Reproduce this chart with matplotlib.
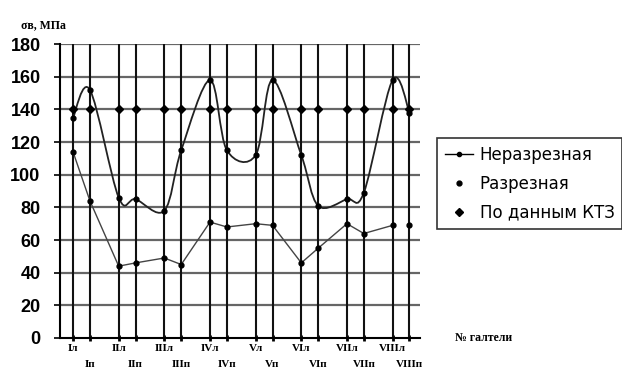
import matplotlib

matplotlib.use("Agg")
import matplotlib.pyplot as plt
from matplotlib.path import Path
from matplotlib.patches import PathPatch

# номера галтелей (л - левая, п - правая)
galteli_l = ["Iл", "IIл", "IIIл", "IVл", "Vл", "VIл", "VIIл", "VIIIл"]
galteli_p = ["Iп", "IIп", "IIIп", "IVп", "Vп", "VIп", "VIIп", "VIIIп"]

# sigma_v, МПа по галтелям в порядке Iл, Iп, IIл, IIп, ...
nerazreznaya = [135, 152, 86, 85, 78, 115, 158, 115, 112, 158, 112, 81, 85, 89, 158, 138]
razreznaya = [114, 84, 44, 46, 49, 45, 71, 68, 70, 69, 46, 55, 70, 64, 69, 69]
ktz = [140, 140, 140, 140, 140, 140, 140, 140, 140, 140, 140, 140, 140, 140, 140, 140]

sdvig = 0.37  # правая галтель чуть правее левой
x_l = list(range(len(galteli_l)))
x_p = [x + sdvig for x in x_l]
x_all = []
for a, b in zip(x_l, x_p):
    x_all += [a, b]


def gladkaya(ax, xs, ys, **kw):
    # сглаженная линия как в Excel (Catmull-Rom -> Bezier)
    pts = list(zip(xs, ys))
    n = len(pts)
    verts = [pts[0]]
    codes = [Path.MOVETO]
    for i in range(n - 1):
        p0 = pts[i - 1] if i > 0 else pts[i]
        p1 = pts[i]
        p2 = pts[i + 1]
        p3 = pts[i + 2] if i + 2 < n else pts[i + 1]
        c1 = (p1[0] + (p2[0] - p0[0]) / 6, p1[1] + (p2[1] - p0[1]) / 6)
        c2 = (p2[0] - (p3[0] - p1[0]) / 6, p2[1] - (p3[1] - p1[1]) / 6)
        verts += [c1, c2, p2]
        codes += [Path.CURVE4] * 3
    ax.add_patch(PathPatch(Path(verts, codes), fill=False, **kw))


fig = plt.figure(figsize=(6.22, 3.71), dpi=100)
ax = fig.add_axes([0.0965, 0.089, 0.578, 0.792])

ax.set_xlim(-0.285, 7.59)
ax.set_ylim(0, 180)

for y in range(20, 181, 20):
    ax.axhline(y, color="#666666", lw=1.6, zorder=1)
for x in x_all:
    ax.axvline(x, color="#111111", lw=1.5, zorder=2)

gladkaya(ax, x_all, nerazreznaya, color="#222222", lw=1.3, zorder=3)
ax.plot(x_all, nerazreznaya, "o", color="black", ms=3.5, zorder=4)
ax.plot(x_all[:-1], razreznaya[:-1], "-", color="#444444", lw=1.0, zorder=3)
ax.plot(x_all, razreznaya, "o", color="black", ms=3.5, zorder=4)
ax.plot(x_all, ktz, "D", color="black", ms=4, zorder=4)

# легенда
h1, = ax.plot([], [], "-o", color="black", ms=3, lw=1)
h2, = ax.plot([], [], "o", color="black", ms=3.5)
h3, = ax.plot([], [], "D", color="black", ms=4)
leg = fig.legend([h1, h2, h3], ["Неразрезная", "Разрезная", "По данным КТЗ"],
                 loc="upper left", bbox_to_anchor=(0.703, 0.627),
                 frameon=True, fancybox=False, fontsize=12, handlelength=1.7,
                 labelspacing=0.65, borderpad=0.45, handletextpad=0.4,
                 borderaxespad=0)
leg.get_frame().set_edgecolor("black")
leg.get_frame().set_linewidth(1.2)

ax.set_yticks(range(0, 181, 20))
ax.tick_params(axis="y", labelsize=13, length=4, width=1.2, pad=10)
for t in ax.get_yticklabels():
    t.set_fontweight("bold")
    t.set_family("Liberation Sans")

ax.set_xticks(x_l)
ax.set_xticklabels(galteli_l, family="Liberation Serif", fontsize=8, fontweight="bold")
ax.set_xticks(x_p, minor=True)
ax.set_xticklabels(galteli_p, minor=True, family="Liberation Serif", fontsize=8,
                   fontweight="bold")
ax.tick_params(axis="x", which="major", length=5, width=2, direction="inout", pad=2)
ax.tick_params(axis="x", which="minor", length=5, width=2, direction="inout", pad=13)

for s in ["top", "right"]:
    ax.spines[s].set_visible(False)
ax.spines["left"].set_linewidth(1.5)
ax.spines["bottom"].set_linewidth(1.5)

fig.text(0.034, 0.925, "σв, МПа", family="Liberation Serif", fontsize=8.5, fontweight="bold")
fig.text(0.731, 0.082, "№ галтели", family="Liberation Serif", fontsize=8.5,
         fontweight="bold")

fig.savefig("out.png", dpi=100)
plt.close(fig)
